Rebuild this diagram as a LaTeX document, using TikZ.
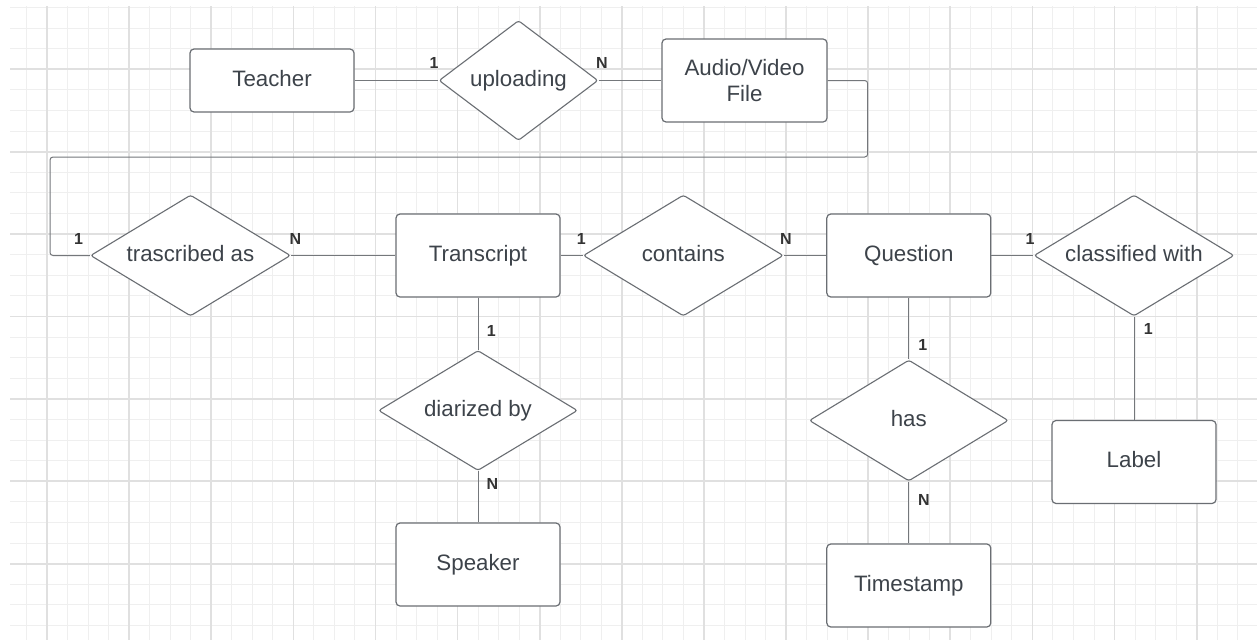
\documentclass[tikz,border=0pt]{standalone}
\usepackage{fontspec}
\setmainfont{Liberation Sans}
\usetikzlibrary{shapes.geometric}
\definecolor{gridmaj}{HTML}{E0E0E0}
\definecolor{gridmin}{HTML}{EFEFEF}
\definecolor{edgec}{HTML}{6A6E73}
\definecolor{txt}{HTML}{3D434A}
\definecolor{conn}{HTML}{74777B}
\definecolor{cardc}{HTML}{333333}
\begin{document}
\begin{tikzpicture}[x=1pt,y=-1pt,
  entity/.style={draw=edgec, line width=1.2pt, rounded corners=4pt, fill=white,
    minimum width=164pt, minimum height=83pt, inner sep=0pt, text=txt,
    font=\fontsize{22.3}{26.7}\selectfont, align=center},
  oneline/.style={text height=16.2pt, text depth=5pt},
  rel/.style={draw=edgec, line width=1.1pt, shape=diamond, aspect=1.65,
    rounded corners=2.5pt, fill=white, minimum width=200pt, minimum height=121pt,
    inner sep=0pt, text=txt, font=\fontsize{22.3}{26.7}\selectfont, oneline},
  card/.style={text=cardc, font=\fontsize{16}{16}\selectfont\bfseries, inner sep=0pt},
  link/.style={draw=conn, line width=1pt}
]
\useasboundingbox (0,0) rectangle (1257,640);
\fill[white] (0,0) rectangle (1257,640);
% grid
\begin{scope}
\clip (10,6) rectangle (1257,640);
\foreach \i in {-2,...,60} \draw[gridmin, line width=1pt] ({47+20.53*\i},0) -- ({47+20.53*\i},640);
\foreach \j in {-4,...,29} \draw[gridmin, line width=1pt] (0,{69.3+20.6*\j}) -- (1257,{69.3+20.6*\j});
\foreach \i in {-1,...,15} \draw[gridmaj, line width=1.7pt] ({47+82.12*\i},0) -- ({47+82.12*\i},640);
\foreach \j in {-1,...,7} \draw[gridmaj, line width=1.7pt] (0,{69.3+82.4*\j}) -- (1257,{69.3+82.4*\j});
\end{scope}
% nodes
\node[entity, oneline, minimum height=63pt] (teacher) at (272,80.5) {Teacher};
\node[rel, minimum width=159pt, minimum height=120pt] (upl) at (518.5,80.5) {uploading};
\node[entity, minimum width=165pt] (av) at (744.5,80.5) {Audio/Video\\File};
\node[rel] (trs) at (190.5,255.5) {trascribed as};
\node[entity, oneline] (transcript) at (478,255.5) {Transcript};
\node[rel] (contains) at (683.3,255.5) {contains};
\node[entity, oneline] (question) at (908.8,255.5) {Question};
\node[rel] (classified) at (1134,255.5) {classified with};
\node[rel, minimum width=199pt, minimum height=120pt] (diarized) at (478,410.5) {diarized by};
\node[entity, oneline] (speaker) at (478,564.5) {Speaker};
\node[rel, minimum width=199pt] (has) at (908.8,420.5) {has};
\node[entity, oneline] (timestamp) at (908.8,585.5) {Timestamp};
\node[entity, oneline] (label) at (1134,462) {Label};
% connectors
\coordinate (c1) at (867.7,157);
\coordinate (c2) at (50,157);
\draw[link] (teacher.east) -- (upl.west);
\draw[link] (upl.east) -- (av.west);
\draw[link, rounded corners=3pt] (av.east) -| (c1) -- (c2) |- (trs.west);
\draw[link] (trs.east) -- (transcript.west);
\draw[link] (transcript.east) -- (contains.west);
\draw[link] (contains.east) -- (question.west);
\draw[link] (question.east) -- (classified.west);
\draw[link] (classified.south) -- (label.north);
\draw[link] (transcript.south) -- (diarized.north);
\draw[link] (diarized.south) -- (speaker.north);
\draw[link] (question.south) -- (has.north);
\draw[link] (has.south) -- (timestamp.north);
% cardinalities
\node[card] (k1) at (434,63) {1};
\node[card] (k2) at (602,63) {N};
\node[card] (k3) at (78.5,238.5) {1};
\node[card] (k4) at (295.5,238.5) {N};
\node[card] (k5) at (581.3,238.5) {1};
\node[card] (k6) at (786,238.5) {N};
\node[card] (k7) at (1030,238.5) {1};
\node[card] (k8) at (1148.3,329) {1};
\node[card] (k9) at (491.3,331) {1};
\node[card] (k10) at (492.5,484) {N};
\node[card] (k11) at (922.7,344.5) {1};
\node[card] (k12) at (924,500) {N};
\end{tikzpicture}
\end{document}
